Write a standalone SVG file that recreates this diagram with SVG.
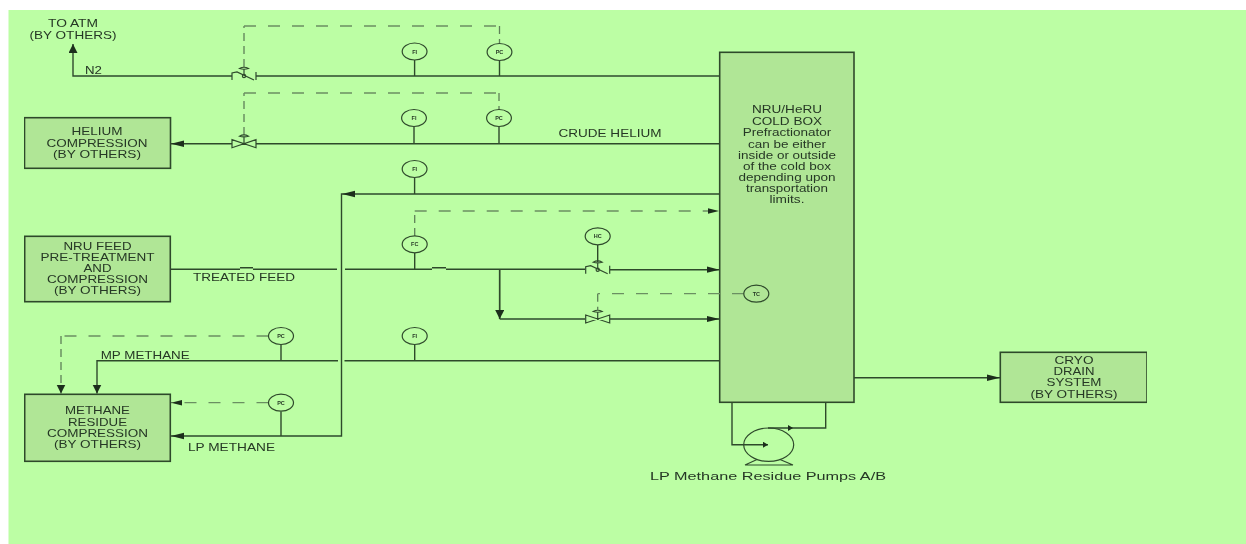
<svg xmlns="http://www.w3.org/2000/svg" width="1246" height="544" viewBox="0 0 1246 544">
<style>
.ln{fill:none;stroke:#2f4a2c;stroke-width:1.4}
.th{fill:none;stroke:#2f4a2c;stroke-width:1.7}
.dh{fill:none;stroke:#6b8f62;stroke-width:1.3;stroke-dasharray:12 12}
.dv{fill:none;stroke:#5f8058;stroke-width:1.3;stroke-dasharray:8 5}
.box{fill:#b0e696;stroke:#2f4a2c;stroke-width:1.6}
.ins{fill:#bcfea4;stroke:#2f4a2c;stroke-width:1.2}
.inb{fill:#b0e696;stroke:#2f4a2c;stroke-width:1.2}
.vlv{fill:none;stroke:#2f4a2c;stroke-width:1.2}
.hd{fill:#1d2f1b}
text{font-family:"Liberation Sans",Arial,sans-serif;fill:#263825;font-size:10.5px;text-anchor:middle}
.s{font-size:5.5px;font-weight:bold}
.l{text-anchor:start}
.b{font-size:11.5px}
</style>
<defs>
<filter id="soft" x="0" y="0" width="100%" height="100%"><feGaussianBlur stdDeviation="0.35"/></filter>
<marker id="ah" markerUnits="userSpaceOnUse" markerWidth="14" markerHeight="8" refX="13" refY="4" orient="auto"><path d="M0 .8L13 4L0 7.2Z" fill="#1d2f1b"/></marker>
<marker id="am" markerUnits="userSpaceOnUse" markerWidth="12" markerHeight="7" refX="11" refY="3.5" orient="auto"><path d="M0 .8L11 3.5L0 6.2Z" fill="#1d2f1b"/></marker>
<marker id="av" markerUnits="userSpaceOnUse" markerWidth="9" markerHeight="10" refX="9" refY="4.5" orient="auto"><path d="M0 0L9 4.5L0 9Z" fill="#1d2f1b"/></marker>
<marker id="as" markerUnits="userSpaceOnUse" markerWidth="6" markerHeight="6" refX="5" refY="3" orient="auto"><path d="M0 0L5 3L0 6Z" fill="#1d2f1b"/></marker>
<g id="bow"><path class="vlv" d="M-12 -4V4L12 -4V4ZM0 0V-7M-4.5 -7.5Q0 -10 4.5 -7.5Q0 -6 -4.5 -7.5Z"/></g>
<g id="skew"><path class="vlv" d="M-12 4V-3L-7 -4L10 4M12 -4V4M0 0V-7M-4.5 -7.5Q0 -10 4.5 -7.5Q0 -6 -4.5 -7.5Z"/><circle class="vlv" cx="0" cy="0" r="1.6"/></g>
</defs>
<rect width="1246" height="544" fill="#ffffff"/>
<rect x="8.5" y="10" width="1237.5" height="534" fill="#bcfea4"/>
<g filter="url(#soft)">
<g id="connectors">
<path class="ln" d="M232 76H73V44" marker-end="url(#av)"/>
<path class="ln" d="M256 76H720"/>
<path class="ln" d="M256 143.7H720"/>
<path class="ln" d="M232 143.7H171" marker-end="url(#ah)"/>
<path class="ln" d="M720 194H341.5V436H171" marker-end="url(#ah)"/>
<path class="hd" d="M342 194L355 190.8V197.2Z"/>
<path class="ln" d="M170.5 269.3H240M253 269.3H337M345 269.3H432M446 269.3H585"/>
<path class="ln" d="M240 267.8H253M432 267.8H446"/>
<path class="ln" d="M610 269.7H719.5" marker-end="url(#ah)"/>
<path class="th" d="M499.7 269.7V319" marker-end="url(#av)"/>
<path class="ln" d="M499.7 319H585M610 319H719.5" marker-end="url(#ah)"/>
<path class="ln" d="M720 360.7H344.5M338 360.7H97V393.5" marker-end="url(#av)"/>
<path class="ln" d="M854 377.7H1000" marker-end="url(#ah)"/>
<path class="ln" d="M732 402.3V444.7H768" marker-end="url(#as)"/>
<path class="ln" d="M825.7 402.3V428H768M782 428H793" marker-end="url(#as)"/>
<path class="ln" d="M414.6 60V76M499.5 60.5V76M414 126.5V143.7M499 126.5V143.7M414.6 177.5V194M414.7 253V269.3M597.7 245V262M281 345V360.7M281 411.5V436M414.7 344.5V360.7"/>
<path class="dv" d="M244 67V26"/><path class="dh" d="M244 26H499"/><path class="dv" d="M499.5 26V43"/>
<path class="dv" d="M244 135V93"/><path class="dh" d="M244 93H499"/><path class="dv" d="M499 93V110"/>
<path class="dv" d="M414.7 236V211"/><path class="dh" d="M414.7 211H719" marker-end="url(#am)"/>
<path class="dh" d="M268.5 336H61"/><path class="dv" d="M61 336V393.5" marker-end="url(#av)"/>
<path class="dh" d="M268.5 402.7H171" marker-end="url(#am)"/>
</g>

<g id="labels">
<text x="73" y="27" textLength="50" lengthAdjust="spacingAndGlyphs">TO ATM</text>
<text x="73" y="38.7" textLength="87" lengthAdjust="spacingAndGlyphs">(BY OTHERS)</text>
<text class="l" x="85" y="74" textLength="17" lengthAdjust="spacingAndGlyphs">N2</text>
<text class="l" x="558.5" y="136.5" textLength="103" lengthAdjust="spacingAndGlyphs">CRUDE HELIUM</text>
<text class="l" x="193" y="280.5" textLength="102" lengthAdjust="spacingAndGlyphs">TREATED FEED</text>
<text class="l" x="100.7" y="359" textLength="89" lengthAdjust="spacingAndGlyphs">MP METHANE</text>
<text class="l" x="188" y="451.3" textLength="87" lengthAdjust="spacingAndGlyphs">LP METHANE</text>
<text class="l b" x="650" y="480" textLength="236" lengthAdjust="spacingAndGlyphs">LP Methane Residue Pumps A/B</text>
</g>

<g id="valve-n2"><use href="#skew" x="244" y="76"/></g>
<g id="valve-helium"><use href="#bow" x="244" y="143.7"/></g>
<g id="valve-hc"><use href="#skew" x="597.7" y="269.7"/></g>
<g id="valve-tc"><use href="#bow" x="597.7" y="319"/></g>

<g id="fi-1"><ellipse class="ins" cx="414.6" cy="51.5" rx="12.4" ry="8.5"/><text class="s" x="414.6" y="53.5">FI</text></g>
<g id="pc-1"><ellipse class="ins" cx="499.5" cy="52" rx="12.4" ry="8.5"/><text class="s" x="499.5" y="54">PC</text></g>
<g id="fi-2"><ellipse class="ins" cx="414" cy="118" rx="12.4" ry="8.5"/><text class="s" x="414" y="120">FI</text></g>
<g id="pc-2"><ellipse class="ins" cx="499" cy="118" rx="12.4" ry="8.5"/><text class="s" x="499" y="120">PC</text></g>
<g id="fi-3"><ellipse class="ins" cx="414.6" cy="169" rx="12.4" ry="8.5"/><text class="s" x="414.6" y="171">FI</text></g>
<g id="fc"><ellipse class="ins" cx="414.7" cy="244.3" rx="12.5" ry="8.5"/><text class="s" x="414.7" y="246.3">FC</text></g>
<g id="hc"><ellipse class="ins" cx="597.7" cy="236.3" rx="12.5" ry="8.5"/><text class="s" x="597.7" y="238.3">HC</text></g>
<g id="pc-3"><ellipse class="ins" cx="281" cy="336" rx="12.5" ry="8.5"/><text class="s" x="281" y="338">PC</text></g>
<g id="fi-4"><ellipse class="ins" cx="414.7" cy="336" rx="12.5" ry="8.5"/><text class="s" x="414.7" y="338">FI</text></g>
<g id="pc-4"><ellipse class="ins" cx="281" cy="402.7" rx="12.5" ry="8.5"/><text class="s" x="281" y="404.7">PC</text></g>

<g id="helium-compression"><rect class="box" x="24.5" y="117.7" width="146" height="50.6"/>
<text x="97" y="135.3" textLength="51" lengthAdjust="spacingAndGlyphs">HELIUM</text>
<text x="97" y="146.7" textLength="101" lengthAdjust="spacingAndGlyphs">COMPRESSION</text>
<text x="97" y="157.5" textLength="88" lengthAdjust="spacingAndGlyphs">(BY OTHERS)</text></g>

<g id="nru-feed"><rect class="box" x="24.7" y="236.3" width="145.6" height="65.4"/>
<text x="97.5" y="249.7" textLength="68" lengthAdjust="spacingAndGlyphs">NRU FEED</text>
<text x="97.5" y="261" textLength="114" lengthAdjust="spacingAndGlyphs">PRE-TREATMENT</text>
<text x="97.5" y="272" textLength="28" lengthAdjust="spacingAndGlyphs">AND</text>
<text x="97.5" y="283.3" textLength="101" lengthAdjust="spacingAndGlyphs">COMPRESSION</text>
<text x="97.5" y="294.3" textLength="87" lengthAdjust="spacingAndGlyphs">(BY OTHERS)</text></g>

<g id="methane-residue"><rect class="box" x="24.7" y="394.3" width="145.6" height="67"/>
<text x="97.5" y="414" textLength="65" lengthAdjust="spacingAndGlyphs">METHANE</text>
<text x="97.5" y="425.7" textLength="59" lengthAdjust="spacingAndGlyphs">RESIDUE</text>
<text x="97.5" y="436.5" textLength="101" lengthAdjust="spacingAndGlyphs">COMPRESSION</text>
<text x="97.5" y="448" textLength="87" lengthAdjust="spacingAndGlyphs">(BY OTHERS)</text></g>

<g id="cold-box"><rect class="box" x="719.7" y="52.3" width="134.3" height="350"/>
<text x="787" y="113.3" textLength="70" lengthAdjust="spacingAndGlyphs">NRU/HeRU</text>
<text x="787" y="125" textLength="70" lengthAdjust="spacingAndGlyphs">COLD BOX</text>
<text x="787" y="136" textLength="88.6" lengthAdjust="spacingAndGlyphs">Prefractionator</text>
<text x="787" y="147.7" textLength="78" lengthAdjust="spacingAndGlyphs">can be either</text>
<text x="787" y="158.7" textLength="98" lengthAdjust="spacingAndGlyphs">inside or outside</text>
<text x="787" y="170" textLength="88" lengthAdjust="spacingAndGlyphs">of the cold box</text>
<text x="787" y="181.3" textLength="97" lengthAdjust="spacingAndGlyphs">depending upon</text>
<text x="787" y="192.3" textLength="82" lengthAdjust="spacingAndGlyphs">transportation</text>
<text x="787" y="203.3" textLength="35" lengthAdjust="spacingAndGlyphs">limits.</text></g>

<g id="connectors-tc"><path class="dh" d="M744 293.7H597.7"/><path class="dv" d="M597.7 293.7V311"/></g>
<g id="tc"><ellipse class="inb" cx="756.3" cy="293.7" rx="12.5" ry="8.5"/><text class="s" x="756.3" y="295.7">TC</text></g>

<g id="cryo-drain"><rect class="box" x="1000.3" y="352.3" width="146.7" height="50"/>
<text x="1074" y="364" textLength="39" lengthAdjust="spacingAndGlyphs">CRYO</text>
<text x="1074" y="375.3" textLength="41" lengthAdjust="spacingAndGlyphs">DRAIN</text>
<text x="1074" y="386.3" textLength="55" lengthAdjust="spacingAndGlyphs">SYSTEM</text>
<text x="1074" y="398" textLength="87" lengthAdjust="spacingAndGlyphs">(BY OTHERS)</text></g>

<g id="pump"><ellipse class="vlv" cx="768.7" cy="444.7" rx="25" ry="16.7"/><path class="vlv" d="M745 465H793M745 465L757 459.5M793 465L780 459.5"/></g>
</g>
</svg>
